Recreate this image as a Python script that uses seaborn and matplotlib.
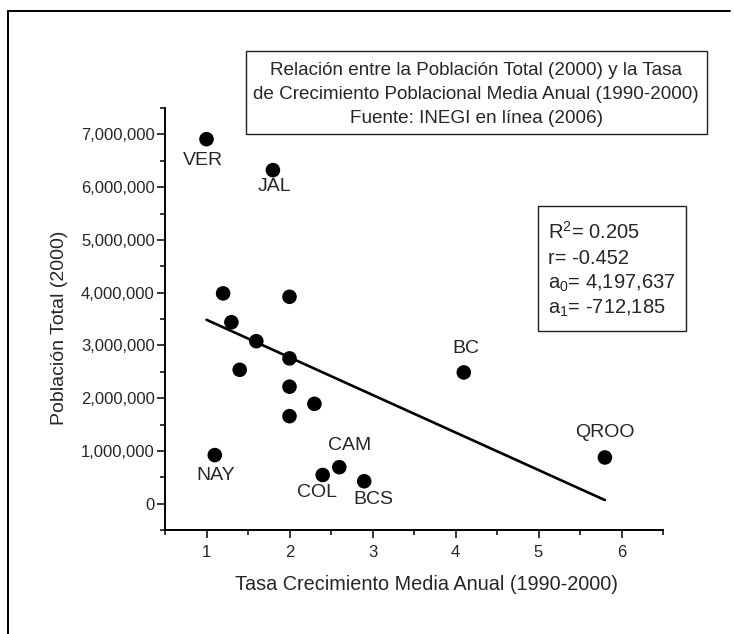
import numpy as np
import pandas as pd
import seaborn as sns
import matplotlib.pyplot as plt
from matplotlib.patches import Rectangle
from matplotlib.lines import Line2D
from matplotlib.ticker import MultipleLocator, FuncFormatter

# data: coastal states, growth 1990-2000 (%) vs population 2000
STATES = ["VER", "JAL", "MICH", "CHIS", "OAX", "GRO", "TAMPS", "SIN", "SON",
          "TAB", "YUC", "NAY", "COL", "CAM", "BCS", "BC", "QROO"]
GROWTH = [1.0, 1.8, 1.2, 2.0, 1.3, 1.6, 2.0, 1.4, 2.0,
          2.3, 2.0, 1.1, 2.4, 2.6, 2.9, 4.1, 5.8]
POP = [6908975, 6322002, 3985667, 3920892, 3438765, 3079649, 2753222, 2536844, 2216969,
       1891829, 1658210, 920185, 542627, 690689, 424041, 2487367, 874963]
LABELED = ["VER", "JAL", "NAY", "COL", "CAM", "BCS", "BC", "QROO"]

# fit
A0 = 4197637
A1 = -712185
STATS = [r"R$^{\mathregular{2}}$= 0.205", "r= -0.452",
         r"a$_{\mathregular{0}}$= 4,197,637", r"a$_{\mathregular{1}}$= -712,185"]
TITLE = ["Relación entre la Población Total (2000) y la Tasa",
         "de Crecimiento Poblacional Media Anual (1990-2000)",
         "Fuente: INEGI en línea (2006)"]

# label offsets in pixels (dx, dy)
LABEL_OFFSETS = {"VER": (-4, -21), "JAL": (2, -16), "NAY": (1, -20), "COL": (-6, -17),
                 "CAM": (10, 22), "BCS": (9, -18), "BC": (2, 24), "QROO": (0, 25)}

W, H = 734, 634


def fx(x):
    return x / W


def fy(y):
    return 1 - y / H


def main():
    sns.set_style("ticks")
    plt.rcParams["font.family"] = ["Liberation Sans", "DejaVu Sans"]
    plt.rcParams["mathtext.fontset"] = "custom"
    plt.rcParams["mathtext.rm"] = "Liberation Sans"
    plt.rcParams["mathtext.it"] = "Liberation Sans:italic"

    df = pd.DataFrame({"state": STATES, "growth": GROWTH, "pop": POP})

    fig = plt.figure(figsize=(W / 100, H / 100), dpi=100)
    ax = fig.add_axes([fx(165), fy(530), fx(663 - 165), (530 - 108) / H])

    sns.scatterplot(data=df, x="growth", y="pop", color="black", s=110,
                    edgecolor="none", ax=ax, zorder=3)

    fit_x = np.array([df["growth"].min(), df["growth"].max()])
    sns.lineplot(x=fit_x, y=A0 + A1 * fit_x, color="black", lw=1.9, ax=ax)

    for _, row in df[df["state"].isin(LABELED)].iterrows():
        dx, dy = LABEL_OFFSETS[row["state"]]
        ax.annotate(row["state"], (row["growth"], row["pop"]), xytext=(dx, dy),
                    textcoords="offset pixels", ha="center", va="center", fontsize=14)

    ax.set_xlim(0.5, 6.5)
    ax.set_ylim(-500000, 7500000)
    ax.xaxis.set_major_locator(MultipleLocator(1))
    ax.xaxis.set_minor_locator(MultipleLocator(0.5))
    ax.yaxis.set_major_locator(MultipleLocator(1000000))
    ax.yaxis.set_minor_locator(MultipleLocator(500000))
    ax.yaxis.set_major_formatter(FuncFormatter(lambda v, p: f"{v:,.0f}"))
    ax.tick_params(which="major", length=5.8, width=1.1, labelsize=12, color="black")
    ax.tick_params(which="minor", length=3.6, width=1.1, color="black")
    ax.tick_params(axis="x", pad=5)
    ax.tick_params(axis="y", pad=1.5)
    sns.despine(ax=ax)
    for sp in ["left", "bottom"]:
        ax.spines[sp].set_linewidth(1.4)
        ax.spines[sp].set_color("black")

    ax.set_xlabel("Tasa Crecimiento Media Anual (1990-2000)", fontsize=14.3, va="center")
    ax.set_ylabel("Población Total (2000)", fontsize=14, va="center")
    ax.xaxis.set_label_coords(0.525, -0.130)
    ax.yaxis.set_label_coords(-0.211, 0.479)

    # title box
    fig.add_artist(Rectangle((fx(246), fy(134)), fx(707 - 246), (134 - 51) / H,
                             transform=fig.transFigure, fill=False, lw=1.0, ec="#222222"))
    for i, line in enumerate(TITLE):
        fig.text(fx(476), fy(75 + 24 * i), line, ha="center", va="baseline", fontsize=13.6)

    # stats box
    fig.add_artist(Rectangle((fx(538), fy(331)), fx(686 - 538), (331 - 206) / H,
                             transform=fig.transFigure, fill=False, lw=1.0, ec="#222222"))
    for i, line in enumerate(STATS):
        fig.text(fx(548), fy(239 + 25 * i), line, ha="left", va="baseline", fontsize=14.5)

    # outer frame (left and top)
    fig.add_artist(Line2D([fx(8), fx(8)], [fy(11), 0], transform=fig.transFigure,
                          color="black", lw=1.4))
    fig.add_artist(Line2D([fx(8), fx(730)], [fy(11), fy(11)], transform=fig.transFigure,
                          color="black", lw=1.4))

    fig.savefig("out.png", dpi=100)
    plt.close(fig)


if __name__ == "__main__":
    main()
